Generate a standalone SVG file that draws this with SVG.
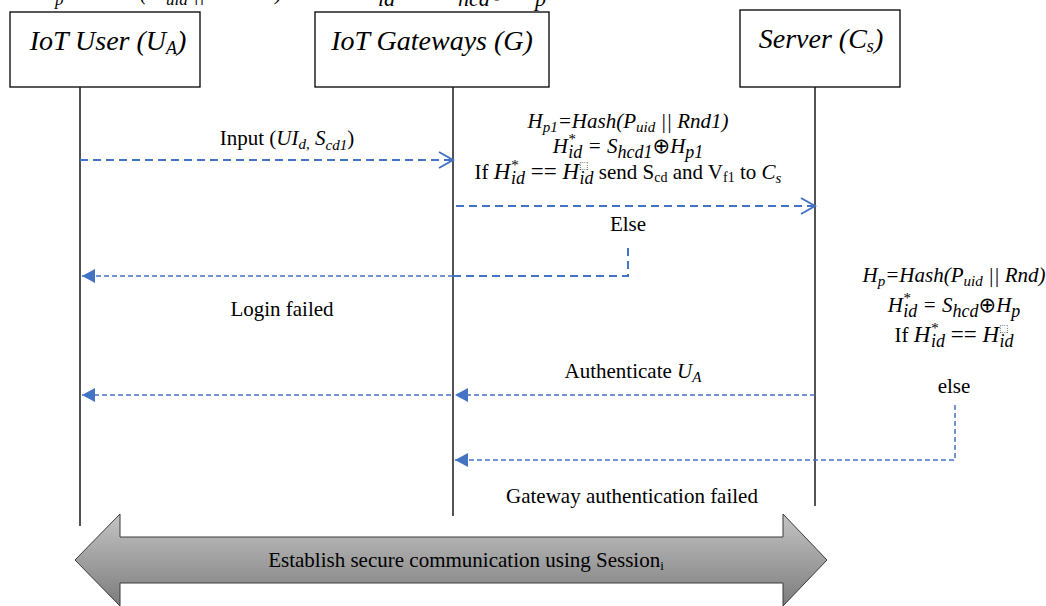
<svg xmlns="http://www.w3.org/2000/svg" width="1046" height="606" viewBox="0 0 1046 606">
<defs>
<style>
.box{fill:#fff;stroke:#000;stroke-width:1.3}
.life{stroke:#1a1a1a;stroke-width:1.5;fill:none}
.t{font-family:"Liberation Serif","Times New Roman",serif;font-size:21px;fill:#000}
.it{font-style:italic}
.hd{font-family:"Liberation Serif","Times New Roman",serif;font-size:28px;font-style:italic;fill:#000}
.math{font-family:"Liberation Serif","Times New Roman",serif;font-style:italic;font-size:21px;fill:#000}
.ds{font-family:"DejaVu Sans",sans-serif;font-style:normal}
.thick{stroke:#4472C4;stroke-width:2;stroke-dasharray:8 5;fill:none}
.thin{stroke:#4472C4;stroke-width:1.5;stroke-dasharray:5 3;fill:none}
</style>
<marker id="open" markerUnits="userSpaceOnUse" markerWidth="20" markerHeight="20" viewBox="0 0 20 20" refX="17" refY="10" orient="auto">
<path d="M3,2 L17,10 L3,18" fill="none" stroke="#4472C4" stroke-width="2"/>
</marker>
<marker id="fill" markerUnits="userSpaceOnUse" markerWidth="16" markerHeight="16" viewBox="0 0 16 16" refX="14" refY="8" orient="auto">
<path d="M1,1 L14,8 L1,15 Z" fill="#4472C4"/>
</marker>
<linearGradient id="grey" gradientUnits="userSpaceOnUse" x1="0" y1="514" x2="0" y2="606">
<stop offset="0" stop-color="#c4c4c4"/>
<stop offset="1" stop-color="#7c7c7c"/>
</linearGradient>
</defs>

<text class="math" font-size="24" y="0"><tspan x="40">H</tspan><tspan x="55" font-size="17" dy="5">p</tspan><tspan x="68" dy="-5">=Hash</tspan><tspan x="140">(P</tspan><tspan x="166" font-size="17" dy="5">uid</tspan><tspan x="193" dy="-5">||</tspan><tspan x="208">Rnd</tspan><tspan x="275">)</tspan><tspan x="300">and</tspan><tspan x="360">H</tspan><tspan x="378" font-size="22" dy="6">id</tspan><tspan x="410" dy="-6">=</tspan><tspan x="442">S</tspan><tspan x="458" font-size="22" dy="6">hcd</tspan><tspan x="488" dy="-6" class="ds">⊕</tspan><tspan x="516">H</tspan><tspan x="535" font-size="22" dy="6">p</tspan></text>

<g id="node-user">
<rect class="box" x="10" y="12" width="190" height="75"/>
<text class="hd" x="108" y="50" text-anchor="middle">IoT User (U<tspan font-size="18" dy="4">A</tspan><tspan dy="-4">)</tspan></text>
</g>
<g id="node-gateway">
<rect class="box" x="315" y="12" width="234" height="75"/>
<text class="hd" x="432" y="50" text-anchor="middle" font-size="27">IoT Gateways (G)</text>
</g>
<g id="node-server">
<rect class="box" x="740" y="10" width="160" height="77"/>
<text class="hd" x="821" y="48" text-anchor="middle">Server (C<tspan font-size="18" dy="4">s</tspan><tspan dy="-4">)</tspan></text>
</g>

<g id="lifelines">
<line class="life" x1="80" y1="87" x2="80" y2="526"/>
<line class="life" x1="453" y1="87" x2="453" y2="516"/>
<line class="life" x1="815" y1="87" x2="815" y2="506"/>
</g>

<g id="connectors">
<line class="thick" x1="80" y1="160" x2="453" y2="160" marker-end="url(#open)"/>
<line class="thick" x1="456" y1="206" x2="815" y2="206" marker-end="url(#open)"/>
<polyline class="thick" points="628,248 628,276 453,276"/>
<line class="thin" x1="453" y1="276" x2="82" y2="276" marker-end="url(#fill)"/>
<line class="thin" x1="815" y1="395" x2="455" y2="395" marker-end="url(#fill)"/>
<line class="thin" x1="451" y1="395" x2="82" y2="395" marker-end="url(#fill)"/>
<polyline class="thin" points="955,405 955,460 455,460" marker-end="url(#fill)"/>
</g>

<g id="labels">
<text class="t" x="287" y="145" text-anchor="middle" font-size="20.5">Input (<tspan class="it">UI</tspan><tspan class="it" font-size="15" dy="4">d,</tspan><tspan class="it" dy="-4"> S</tspan><tspan class="it" font-size="15" dy="5">cd1</tspan><tspan dy="-5">)</tspan></text>

<text class="math" x="628" y="128" text-anchor="middle">H<tspan font-size="15" dy="4">p1</tspan><tspan dy="-4">=Hash(P</tspan><tspan font-size="15" dy="4">uid</tspan><tspan dy="-4"> || Rnd1)</tspan></text>
<text class="math" x="628" y="153" text-anchor="middle" font-size="23">H<tspan font-size="15" dy="-9">*</tspan><tspan font-size="18" dx="-7" dy="14">id</tspan><tspan dy="-5"> = S</tspan><tspan font-size="18" dy="5">hcd1</tspan><tspan dy="-5" class="ds">⊕</tspan><tspan>H</tspan><tspan font-size="18" dy="5">p1</tspan></text>
<text class="t" x="628" y="179" text-anchor="middle">If <tspan class="it" font-size="23">H</tspan><tspan class="it" font-size="15" dy="-9">*</tspan><tspan class="it" font-size="18" dx="-7" dy="14">id</tspan><tspan dy="-5" font-size="23"> == </tspan><tspan class="it" font-size="23">H</tspan><tspan class="ds" font-size="10" dy="-10">⬚</tspan><tspan class="it" font-size="18" dx="-9" dy="15">id</tspan><tspan dy="-5"> send S</tspan><tspan font-size="14" dy="3">cd</tspan><tspan dy="-3"> and V</tspan><tspan font-size="14" dy="3">f1</tspan><tspan dy="-3"> to </tspan><tspan class="it">C</tspan><tspan class="it" font-size="15" dy="4">s</tspan></text>
<text class="t" x="628" y="231" text-anchor="middle" font-size="22">Else</text>
<text class="t" x="282" y="316" text-anchor="middle" font-size="21.5">Login failed</text>

<text class="math" x="954" y="282" text-anchor="middle">H<tspan font-size="15" dy="4">p</tspan><tspan dy="-4">=Hash(P</tspan><tspan font-size="15" dy="4">uid</tspan><tspan dy="-4"> || Rnd)</tspan></text>
<text class="math" x="954" y="312" text-anchor="middle" font-size="23">H<tspan font-size="15" dy="-9">*</tspan><tspan font-size="18" dx="-7" dy="14">id</tspan><tspan dy="-5"> = S</tspan><tspan font-size="18" dy="5">hcd</tspan><tspan dy="-5" class="ds">⊕</tspan><tspan>H</tspan><tspan font-size="18" dy="5">p</tspan></text>
<text class="t" x="954" y="342" text-anchor="middle">If <tspan class="it" font-size="23">H</tspan><tspan class="it" font-size="15" dy="-9">*</tspan><tspan class="it" font-size="18" dx="-7" dy="14">id</tspan><tspan dy="-5" font-size="23"> == </tspan><tspan class="it" font-size="23">H</tspan><tspan class="ds" font-size="10" dy="-10">⬚</tspan><tspan class="it" font-size="18" dx="-9" dy="15">id</tspan></text>
<text class="t" x="954" y="393" text-anchor="middle" font-size="22">else</text>

<text class="t" x="633" y="378" text-anchor="middle" font-size="20">Authenticate <tspan class="it">U</tspan><tspan class="it" font-size="15" dy="4">A</tspan></text>
<text class="t" x="632" y="503" text-anchor="middle">Gateway authentication failed</text>
</g>

<g id="node-session">
<polygon points="75,560 120,514 120,537 783,537 783,514 827,560 783,606 783,583 120,583 120,606" fill="url(#grey)" stroke="#3a3a3a" stroke-width="1"/>
<text class="t" x="466" y="567" text-anchor="middle" font-size="21.5">Establish secure communication using Session<tspan font-size="13" dy="3">i</tspan></text>
</g>
</svg>
